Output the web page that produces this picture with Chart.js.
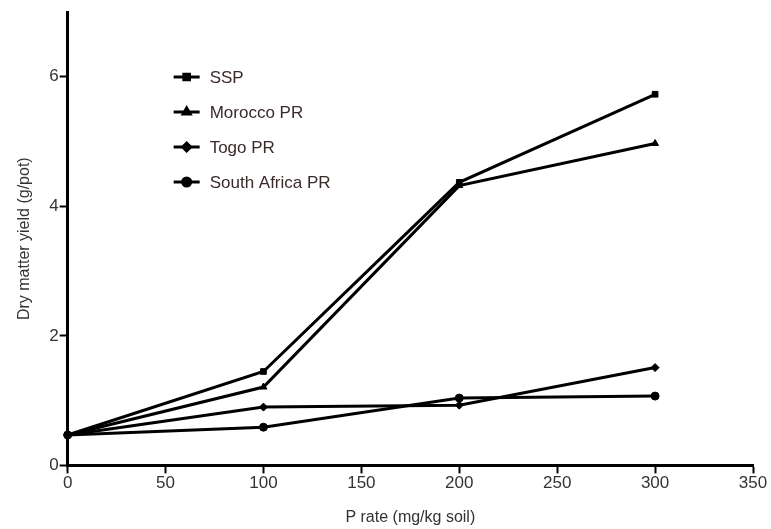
<!DOCTYPE html>
<html>
<head>
<meta charset="utf-8">
<script src="https://cdn.jsdelivr.net/npm/chart.js@4/dist/chart.umd.min.js"></script>
<style>
  html, body { margin: 0; padding: 0; background: #fff; }
  #wrap { width: 771px; height: 529px; position: relative; }
</style>
</head>
<body>
<div id="wrap"><canvas id="chart"></canvas></div>
<script>
const pRates = [0, 100, 200, 300];
const ssp = [0.47, 1.45, 4.37, 5.73];
const morocco = [0.47, 1.21, 4.32, 4.97];
const togo = [0.47, 0.90, 0.93, 1.51];
const southAfrica = [0.47, 0.59, 1.04, 1.07];
const seriesNames = ['SSP', 'Morocco PR', 'Togo PR', 'South Africa PR'];
const markers = ['rect', 'triangle', 'rectRot', 'circle'];
const yTicks = [0, 2, 4, 6];

const fontFamily = 'Liberation Sans, Arial, sans-serif';

function toPoints(values) {
    return values.map((v, i) => ({ x: pRates[i], y: v }));
}

// legend drawn inside the plot, top left
const insideLegend = {
    id: 'insideLegend',
    afterDatasetsDraw(chart) {
        const ctx = chart.ctx;
        const left = chart.chartArea.left + 106;
        const top = chart.chartArea.top + 65;
        const rowH = 35;
        ctx.save();
        chart.data.datasets.forEach((ds, i) => {
            const y = top + i * rowH;
            ctx.strokeStyle = '#000';
            ctx.lineWidth = 3;
            ctx.beginPath();
            ctx.moveTo(left, y);
            ctx.lineTo(left + 26, y);
            ctx.stroke();
            ctx.fillStyle = '#000';
            Chart.helpers.drawPoint(ctx, { pointStyle: ds.pointStyle, radius: 4, borderWidth: 1 }, left + 13, y);
            ctx.fillStyle = '#3a2a2a';
            ctx.font = '17px ' + fontFamily;
            ctx.textBaseline = 'middle';
            ctx.fillText(ds.label, left + 36, y + 1);
        });
        ctx.restore();
    }
};

const allValues = [ssp, morocco, togo, southAfrica];

new Chart(document.getElementById('chart'), {
    type: 'line',
    data: {
        datasets: allValues.map((vals, i) => ({
            label: seriesNames[i],
            data: toPoints(vals),
            borderColor: '#000',
            backgroundColor: '#000',
            borderWidth: 3,
            pointStyle: markers[i],
            pointRadius: 4,
            pointBorderWidth: 1,
            tension: 0,
            clip: false
        }))
    },
    options: {
        responsive: true,
        maintainAspectRatio: false,
        animation: false,
        layout: { padding: { top: 12, right: 18, left: 11, bottom: 0 } },
        plugins: {
            legend: { display: false },
            tooltip: { enabled: false }
        },
        scales: {
            x: {
                type: 'linear',
                min: 0,
                max: 350,
                ticks: { stepSize: 50, color: '#333', font: { size: 17, family: fontFamily }, padding: 0 },
                grid: { drawOnChartArea: false, tickLength: 8, tickColor: '#000', tickWidth: 2 },
                border: { color: '#000', width: 3 },
                title: { display: true, text: 'P rate (mg/kg soil)', color: '#333', font: { size: 16, family: fontFamily }, padding: { top: 14, bottom: 2 } }
            },
            y: {
                min: 0,
                max: 7,
                afterBuildTicks: axis => { axis.ticks = yTicks.map(v => ({ value: v })); },
                ticks: { color: '#333', font: { size: 17, family: fontFamily }, padding: 1 },
                grid: { drawOnChartArea: false, tickLength: 8, tickColor: '#000', tickWidth: 2 },
                border: { color: '#000', width: 3 },
                title: { display: true, text: 'Dry matter yield (g/pot)', color: '#333', font: { size: 16, family: fontFamily }, padding: { bottom: 14 } }
            }
        }
    },
    plugins: [insideLegend]
});
</script>
</body>
</html>
